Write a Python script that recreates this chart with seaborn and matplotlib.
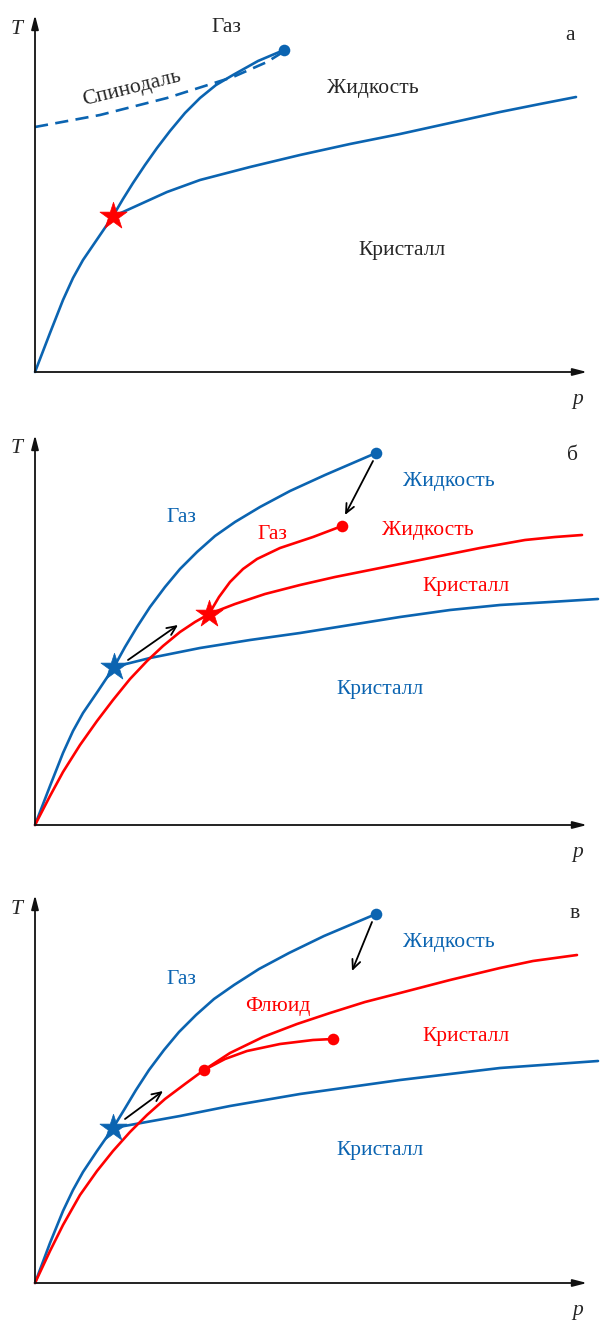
import numpy as np
import pandas as pd
import matplotlib
matplotlib.use("Agg")
import matplotlib.pyplot as plt
import seaborn as sns

sns.set_theme(style="white")
plt.rcParams['font.family'] = ['Liberation Serif', 'DejaVu Serif']

BLUE = '#0b64b1'
RED = '#ff0000'

# ---------- Panel a (p, T) ----------
a_vap_p = [0, 15, 28, 38, 48, 63, 78, 88, 98, 110, 122, 135, 150, 165, 181, 198, 223, 249]
a_vap_T = [0, 39, 72, 94, 112, 134, 156, 173, 189, 207, 224, 241, 259, 274, 287, 297, 311, 322]
a_melt_p = [78, 88, 132, 165, 215, 265, 315, 365, 415, 465, 505, 541]
a_melt_T = [156, 160, 180, 192, 205, 217, 228, 238, 249, 260, 268, 275]
a_spin_p = [0, 65, 132, 198, 232, 248]
a_spin_T = [245, 257, 274, 295, 310, 320]
a_triple = (78, 156)
a_crit = (249, 322)

# ---------- Panel б ----------
b_vap_blue_p = [0, 15, 28, 38, 48, 63, 79, 90, 102, 115, 130, 145, 162, 180, 200, 225, 255, 290, 341]
b_vap_blue_T = [0, 39, 72, 94, 112, 134, 158, 178, 198, 218, 238, 256, 273, 289, 303, 318, 334, 350, 372]
b_melt_blue_p = [79, 115, 165, 215, 265, 315, 365, 415, 465, 515, 563]
b_melt_blue_T = [158, 167, 177, 185, 192, 200, 208, 215, 220, 223, 226]
b_vap_red_p = [0, 15, 28, 45, 62, 78, 95, 112, 128, 145, 160, 174, 184, 195, 208, 222, 245, 278, 307]
b_vap_red_T = [0, 29, 53, 80, 104, 125, 146, 164, 179, 193, 203, 211, 228, 243, 256, 266, 277, 288, 299]
b_melt_red_p = [174, 200, 230, 265, 300, 345, 395, 445, 490, 520, 547]
b_melt_red_T = [211, 221, 231, 240, 248, 257, 267, 277, 285, 288, 290]
b_triple_blue = (79, 158)
b_triple_red = (174, 211)
b_crit_blue = (341, 372)
b_crit_red = (307, 299)
b_arrows = [((93, 165), (143, 200)), ((338, 364), (310, 310))]

# ---------- Panel в ----------
c_vap_blue_p = [0, 15, 28, 38, 48, 62, 78, 89, 101, 114, 129, 144, 161, 179, 199, 224, 254, 289, 341]
c_vap_blue_T = [0, 40, 72, 93, 111, 132, 155, 173, 193, 213, 233, 251, 268, 284, 298, 314, 330, 347, 369]
c_melt_blue_p = [78, 95, 145, 195, 265, 365, 465, 563]
c_melt_blue_T = [155, 158, 167, 177, 189, 203, 215, 222]
c_vap_red_p = [0, 15, 28, 45, 62, 78, 95, 112, 130, 150, 169]
c_vap_red_T = [0, 32, 58, 88, 112, 132, 151, 168, 184, 199, 213]
c_melt_red_p = [169, 195, 228, 262, 295, 330, 365, 415, 465, 498, 542]
c_melt_red_T = [213, 230, 246, 259, 270, 281, 290, 303, 315, 322, 328]
c_liq_red_p = [169, 190, 212, 245, 278, 298]
c_liq_red_T = [213, 224, 232, 239, 243, 244]
c_triple_blue = (78, 155)
c_point_red = (169, 213)
c_crit_blue = (341, 369)
c_crit_red = (298, 244)
c_arrows = [((90, 164), (128, 192)), ((337, 361), (317, 312))]

W, H = 601, 1320
fig = plt.figure(figsize=(W / 100, H / 100), dpi=100)

FS = 15.5


def make_ax(top_px, bot_px, origin_px):
    ax = fig.add_axes([0, 1 - bot_px / H, 1, (bot_px - top_px) / H])
    ax.set_xlim(-35, W - 35)
    ax.set_ylim(origin_px - bot_px, origin_px - top_px)
    ax.axis('off')
    return ax


def axes_arrows(ax, ytop, letter, letter_pos):
    kw = dict(arrowstyle='-|>,head_length=0.7,head_width=0.18', color='#111111', lw=1.3,
              shrinkA=0, shrinkB=0)
    ax.annotate('', xy=(0, ytop), xytext=(0, 0), arrowprops=kw)
    ax.annotate('', xy=(552, 0), xytext=(0, 0), arrowprops=kw)
    ax.text(-18, ytop - 14, 'T', fontsize=FS, style='italic', ha='center', va='center')
    ax.text(543, -28, 'p', fontsize=FS, style='italic', ha='center', va='center')
    ax.text(letter_pos[0], letter_pos[1], letter, fontsize=FS, ha='center', va='center')


def curve(ax, p, T, color):
    df = pd.DataFrame({'p': p, 'T': T})
    sns.lineplot(data=df, x='p', y='T', sort=False, estimator=None, color=color,
                 lw=1.9, ax=ax, solid_joinstyle='round', solid_capstyle='round')


def star(ax, pt, color):
    sns.scatterplot(x=[pt[0]], y=[pt[1]], marker='*', s=420, color=color,
                    edgecolor=color, linewidth=0.5, ax=ax, zorder=5)


def dot(ax, pt, color):
    sns.scatterplot(x=[pt[0]], y=[pt[1]], marker='o', s=70, color=color,
                    edgecolor=color, linewidth=0, ax=ax, zorder=5)


def arrow(ax, a, b):
    ax.annotate('', xy=b, xytext=a,
                arrowprops=dict(arrowstyle='->,head_length=0.55,head_width=0.25',
                                color='black', lw=1.3, shrinkA=0, shrinkB=0))


# ---- Panel a ----
ax = make_ax(0, 420, 372)
axes_arrows(ax, 357, 'а', (535, 337))
curve(ax, a_vap_p, a_vap_T, BLUE)
curve(ax, a_melt_p, a_melt_T, BLUE)
ax.plot(a_spin_p, a_spin_T, color=BLUE, lw=1.9, dashes=(5, 2.8))
star(ax, a_triple, RED)
dot(ax, a_crit, BLUE)
ax.text(191, 345, 'Газ', fontsize=FS, ha='center', va='center')
ax.text(338, 284, 'Жидкость', fontsize=FS, ha='center', va='center')
ax.text(367, 122, 'Кристалл', fontsize=FS, ha='center', va='center')
ax.text(97, 283, 'Спинодаль', fontsize=FS, ha='center', va='center', rotation=14)

# ---- Panel б ----
ax = make_ax(420, 880, 825)
axes_arrows(ax, 390, 'б', (537, 369))
curve(ax, b_vap_blue_p, b_vap_blue_T, BLUE)
curve(ax, b_melt_blue_p, b_melt_blue_T, BLUE)
curve(ax, b_vap_red_p, b_vap_red_T, RED)
curve(ax, b_melt_red_p, b_melt_red_T, RED)
star(ax, b_triple_blue, BLUE)
star(ax, b_triple_red, RED)
dot(ax, b_crit_blue, BLUE)
dot(ax, b_crit_red, RED)
for a_, b_ in b_arrows:
    arrow(ax, a_, b_)
ax.text(146, 307, 'Газ', fontsize=FS, color=BLUE, ha='center', va='center')
ax.text(237, 290, 'Газ', fontsize=FS, color=RED, ha='center', va='center')
ax.text(414, 343, 'Жидкость', fontsize=FS, color=BLUE, ha='center', va='center')
ax.text(393, 294, 'Жидкость', fontsize=FS, color=RED, ha='center', va='center')
ax.text(431, 238, 'Кристалл', fontsize=FS, color=RED, ha='center', va='center')
ax.text(345, 135, 'Кристалл', fontsize=FS, color=BLUE, ha='center', va='center')

# ---- Panel в ----
ax = make_ax(880, 1320, 1283)
axes_arrows(ax, 388, 'в', (540, 370))
curve(ax, c_vap_blue_p, c_vap_blue_T, BLUE)
curve(ax, c_melt_blue_p, c_melt_blue_T, BLUE)
curve(ax, c_vap_red_p, c_vap_red_T, RED)
curve(ax, c_melt_red_p, c_melt_red_T, RED)
curve(ax, c_liq_red_p, c_liq_red_T, RED)
star(ax, c_triple_blue, BLUE)
dot(ax, c_point_red, RED)
dot(ax, c_crit_blue, BLUE)
dot(ax, c_crit_red, RED)
for a_, b_ in c_arrows:
    arrow(ax, a_, b_)
ax.text(146, 303, 'Газ', fontsize=FS, color=BLUE, ha='center', va='center')
ax.text(243, 276, 'Флюид', fontsize=FS, color=RED, ha='center', va='center')
ax.text(414, 341, 'Жидкость', fontsize=FS, color=BLUE, ha='center', va='center')
ax.text(431, 247, 'Кристалл', fontsize=FS, color=RED, ha='center', va='center')
ax.text(345, 133, 'Кристалл', fontsize=FS, color=BLUE, ha='center', va='center')

fig.savefig('out.png', dpi=100)
